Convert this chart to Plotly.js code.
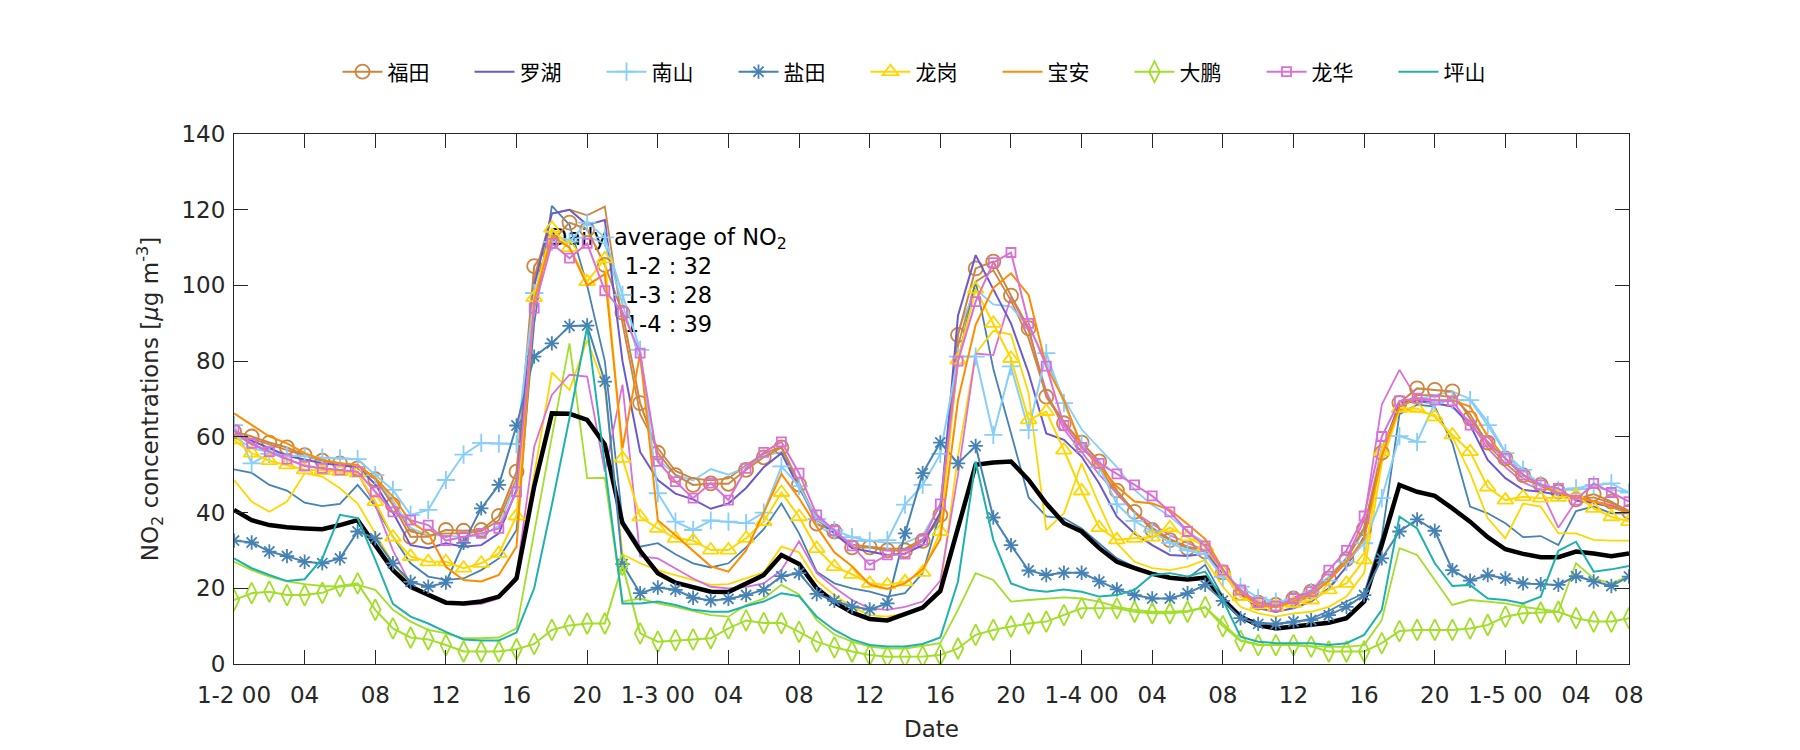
<!DOCTYPE html>
<html>
<head>
<meta charset="utf-8">
<script src="https://cdn.plot.ly/plotly-3.0.1.min.js"></script>
<style>html,body{margin:0;padding:0;background:#fff}#chart{width:1800px;height:750px}</style>
</head>
<body>
<div id="chart"></div>
<script>
// ---- tick labels (hourly index 0..79) ----
const tickLabels = ["1-2 00","04","08","12","16","20","1-3 00","04","08","12","16","20","1-4 00","04","08","12","16","20","1-5 00","04","08"];
const tickIndex = [0,4,8,12,16,20,24,28,32,36,40,44,48,52,56,60,64,68,72,76,79];

// ---- legend series (with markers) ----
const futian = [61.4,60.1,58.5,57.2,55.2,53.7,53.0,51.7,48.8,42.0,33.6,33.6,35.4,35.2,35.4,39.1,50.8,105.1,111.6,116.6,
  114.8,105.4,92.8,68.9,55.8,49.9,47.3,47.7,47.6,51.3,54.6,57.2,47.4,37.1,35.0,30.8,30.8,30.0,30.0,32.5,
  39.4,86.9,104.5,106.3,97.3,88.7,70.6,63.6,58.5,53.5,45.8,40.2,35.4,32.7,30.6,29.7,24.2,18.7,16.2,15.6,
  17.3,19.1,22.6,27.7,35.8,55.8,69.0,72.8,72.4,72.0,64.9,58.5,54.3,49.9,47.3,45.5,43.5,44.9,42.9,40.2];
const luohu = [61,59,57,55,54,53,52.5,52,47.5,40,31.4,30.6,31.9,31.0,31.4,34.5,46,100,119,120,
  116,117.3,80,56,48.6,45,43.5,41,42.4,46.5,52,55.7,46.5,38.6,34.5,30.6,29.7,28.8,29.2,31.4,
  40,92,108,99,90,76.8,60.9,59.2,54.8,47.7,38.9,34.5,31.4,28.8,28.5,29.2,24.0,18.7,14.7,13.8,
  14.7,16.5,20.0,25.7,33.6,55,68.9,69.5,68.9,68.0,63.1,53.9,49.1,46.0,45.5,44.7,43.3,42.5,41.6,39.8];
const nanshan = [63.1,53.0,55.5,55.0,55.0,54.5,54.3,54.1,49.9,46.0,39.4,40.7,48.6,55.3,58.4,58.2,58.1,98,111.5,111.6,
  116.6,112.7,97.5,83.0,45.1,37.6,35.4,37.9,37.6,37.2,40.0,52.2,47,38.3,35.4,33.5,32.5,32.7,42.1,47.3,
  55.5,81.2,81.2,60.5,78.6,61.8,82.1,68.9,58,52,42.2,37.8,35,32,30,29,23,20.4,17.5,16.5,
  17,19,22,27,31.9,43.8,60.2,58.7,68.9,69.7,69.7,63.1,55.7,51.3,47.3,46.0,46.4,47.3,47.7,45.3];
const yantian = [32.6,32.1,29.7,28.5,27.0,26.6,27.9,35.0,33.2,26.6,21.7,20.4,21.5,32,41.1,47.3,63.0,81.2,84.7,89.3,
  89.4,74.6,26.4,18.7,20.2,19.6,17.5,16.8,17.2,18.2,19.6,23.2,24.0,18.5,16.7,15.2,14.4,16.0,34.5,50.4,
  58.5,53.0,57.6,38.7,31.4,24.7,23.5,24.1,24.1,21.8,19.7,18.2,17.3,17.3,18.7,20.9,16.7,12.1,10.6,10.6,
  11.2,11.6,12.9,15.1,18.2,27.9,35.0,38.2,35.2,24.8,22.0,23.5,22.6,21.3,21.1,20.9,23.2,21.8,20.6,23.1];
const longgang = [59.2,55.7,53.7,52.6,51.3,51.1,50.8,50.4,42.9,33.5,28.4,27.0,27.0,25.3,26.6,29.2,39.1,96.8,115.1,110,
  101.0,107.0,54.3,38.9,35.8,33.2,32.6,30.1,30.1,33.2,37.6,45.3,38.9,30.5,25.7,23.7,21.3,20.9,21.7,24.2,
  35.0,80.3,99.0,90.0,80.7,64.5,66.7,56.5,45.7,36.0,32.8,33.2,33.5,36.0,33.6,31.0,24.4,17.8,15.6,15.1,
  16.0,16.9,19.6,21.3,27.5,56.1,67.5,67.5,65.3,60.5,56.1,46.7,43.3,44.2,43.8,44.0,44.5,41.1,38.9,37.6];
const baoan = [66.2,63.1,60.1,58.3,55.7,53.9,53.0,52.6,49.1,44.2,37.6,34.5,25.7,22.2,21.8,23.5,31.0,96,113,110,
  100,103,57,82,38,34,30,25.8,24.4,30,40,50.2,43.8,36.3,29.5,25.8,21,19.8,21.3,25,
  33,69.7,89.6,99.3,103.2,97.5,78.6,69.7,57.4,52.1,46.9,42.9,42.4,40.7,37,33,25,19,15.5,15,
  16.5,18.5,22,27,33,55,68,70.2,69.7,69.7,68.0,60.1,54.3,49.9,47.3,45.1,44,43,41.5,39.8];
const dapeng = [16.9,18.7,19.1,18.2,18.2,18.8,20.6,21.3,14.3,9.4,7.0,6.5,5.0,3.3,3.3,3.3,3.9,5.3,9.0,10.2,
  10.7,10.7,26.2,8.1,5.9,6.3,6.5,6.8,9.4,11.5,10.8,10.8,8.5,5.9,4.4,3.3,2.4,1.9,2.0,2.0,
  2.4,4.1,7.7,9.0,9.9,10.7,11.2,12.9,14.7,14.7,14.7,13.8,13.4,13.4,13.8,15.0,10.0,6.1,5.0,5.0,
  5.0,4.6,3.3,3.3,3.3,5.5,8.7,9.0,9.0,9.0,9.4,10.3,12.5,13.4,13.6,13.8,12.1,11.2,11.2,12.1];
const longhua = [61.8,58.3,56.1,54.1,52.3,51.7,51.3,50.8,45.5,40.2,38.0,36.7,32.6,33.6,34.5,35.8,45.5,94.0,111.1,107.2,
  111.1,98.6,93,82.1,53.5,48.2,43.8,47.8,43.3,51.7,55.9,58.7,50.4,39.4,35.2,31.2,26.2,28.8,29.0,32.7,
  42.3,80,95.7,106,108.7,90.0,78.7,63,57.2,53,50.2,47.3,44.4,40.2,35.0,31.2,24.8,19.6,16.2,15.3,
  17.3,19.1,24.8,30,39.1,60.1,69.5,70.2,69.7,69.5,63.1,58.7,54.3,49.9,47.3,46.4,43.3,47.7,45.3,42.9];
const pingshan = [27.9,25.3,23.5,21.9,22.4,27.9,39.4,38.5,27.5,15.9,12.5,10.7,8.5,6.5,6.2,6.2,8.3,20,42,65,
  89.1,52,16.0,16.0,16.5,15.6,14.3,13.8,13.8,15.3,16.5,18.7,17.9,12.5,9.0,6.5,5.0,4.6,4.6,5.3,
  7,21.8,53.5,32.8,21.3,19.6,19.1,19.7,19.1,17.8,18.2,19.6,23.5,24.0,23.1,24.4,16.9,7.2,5.9,5.5,
  5.5,5.5,5.0,5.5,7.7,14.3,38.9,35.8,26.6,20.6,20.9,17.3,16.9,16.0,17.8,29.9,32.3,24.4,25.0,25.9];

// ---- additional stations (thin lines, no markers) ----
const futian2 = [60.5,59.5,58,56.5,55,54,53,52.5,49,43,35,34,34.5,34.5,35,38,49,102,119,120,
  118.5,120.8,90,66,57,51,49,48.5,49,52.5,55.5,57.5,48,38,35,31.5,31,30.5,30.5,33,
  38,84,101,104,96,86,71,64,58,52,45,40,36,33,31,30,24.5,19,16.5,15.8,
  17.5,19.5,23,28,36,57,68,71,71,70.5,66,58,53,49,47,45,43.5,44,42.5,40.5];
const nanshan2 = [60,57,56,55,54,53.5,53,52.5,49,43,36,34,34,33.5,34,36.5,48,100,113,112,
  113,111,95,80,54,50,48.5,51.5,50,52,55,56,47,37,33.5,32.5,32.5,32,32,34,
  42,88,99,95,94.4,89,80,70,62,57,52,46,42,39,35,32,25,19,16.5,16,
  17,19,23,28,35,57,68,70,71,72,70,64,56,50,47.5,46,46,46.5,46,45.5];
const yantian2 = [51.4,50.5,47.3,45.8,42.6,41.7,42.3,47.3,41.7,33.6,26.6,23.1,22.2,22.6,24.8,27.9,35.4,90,121,116,
  100,80,38,31,31.9,29,26.6,25.5,26.6,30.8,35.6,42.4,34.5,24.4,21.3,20.0,19.1,17.8,18.7,24,
  40,80,101,78,61,44,39,38.5,35.8,31.9,27.9,25.7,24.0,22.6,22.6,26.2,17.8,12.5,11,10.6,
  11,12,14,16.5,18.7,33.5,66,68.5,68.0,58.3,41.6,39.8,37.2,33.5,33.8,31.4,40.4,41.6,39.8,39.8];
const longgang2 = [48.6,42.9,40.2,42.9,50.4,49.5,46.4,42.4,34.5,26.6,20.9,18.5,16.5,15.9,15.9,17.8,23.1,50,77,72.4,
  85.6,73,29,26.6,24.8,23.5,22.2,20.9,21.1,22.6,24.2,31.0,29.5,22,18.2,15.1,12.9,12.5,13.4,15.1,
  20,55,82,88,87,71.5,35.4,39.8,53.0,42,31.9,27.0,25.3,24.8,25.7,27.5,20.4,15.1,13.4,12.5,
  13.4,13.8,15.1,17.8,24.0,53,67.2,66.7,65.8,60,50.4,38.5,33.2,42.4,41.6,34.5,34.5,32.8,32.6,32.6];
const dapeng2 = [27.0,24.8,23.1,21.8,21.1,20.6,20.4,20.9,19.6,14.3,11.2,9.0,8.1,6.8,6.8,7.0,9.4,35,60,84.7,
  49.1,49.2,16.5,17.3,16.0,15.1,14,12.9,12.5,15.6,17.3,20.9,18.4,11.6,7.8,5.9,4.6,4.1,4.1,4.8,
  5.5,14.3,24.0,22.2,16.5,16.9,17.3,17.6,17.3,16.5,15.1,14.3,13.8,13.8,14,15,10.7,6.3,5.2,5.0,
  5.0,4.8,4.5,4.5,5.0,11.6,30.6,28.8,22.2,15.6,16.9,16.5,16.0,15.1,14.4,13.8,26.6,22.6,21.3,23.2];
const longhua2 = [61,58,56,54,52.5,51.5,51,50.5,42,30,21,18.5,16.5,15.6,15.9,17.3,23.5,57.4,71.1,76.4,
  75.9,50.8,73.8,28.4,27.9,25.3,22.6,20.4,20.0,20.4,21.3,24.8,32.4,24.0,20.2,16.9,14.7,14.3,15.1,16.5,
  22,50,82,81.6,97,88,72,62,56,50,45,40,37,34,32,30,24,18,15.5,15,
  16,18,22,28,38,68.5,77.7,70,69,68,64,57,52,48,46,36,43,43,42,40];
const average = [40.7,38.0,36.7,36.1,35.8,35.6,36.7,38.0,31.4,24.8,20.4,18.2,16.2,16.0,16.5,17.8,22.6,46.9,66.2,66.1,
  64.5,58.0,37.2,29.9,24.0,21.5,20.2,19.1,19.0,21.1,23.5,28.8,26.4,20.0,16.3,13.6,11.9,11.5,13.2,14.9,
  19.3,35.8,52.6,53.2,53.5,48.6,42.4,37.2,35.0,30.6,27.0,25.3,23.8,22.8,22.3,22.8,17.1,12.5,10.3,9.4,
  9.9,10.3,10.9,12.1,16.5,31.5,47.3,45.5,44.4,41.1,37.6,33.5,30.3,29.1,28.2,28.2,29.7,29.2,28.5,29.2];

const dailyDays = ["1-2","1-3","1-4"];
const dailyMeans = [32,28,39];

// ---- styles ----
const C = {futian:"#CD853F", luohu:"#6A5ACD", nanshan:"#87CEFA", yantian:"#4682B4", longgang:"#FFD700",
           baoan:"#FF8C00", dapeng:"#A2DE2A", longhua:"#DA70D6", pingshan:"#20B2AA"};
const x = futian.map((_, i) => i);
const FONT = "DejaVu Sans, Noto Sans, sans-serif";

const traces = [];
// text block first so the lines are drawn over it
traces.push({
  x: [24.6], y: [100.7],
  mode: "text", type: "scatter", showlegend: false, hoverinfo: "skip",
  text: ["Daily average of NO<sub>2</sub><br>" + dailyDays.map((d, i) => d + " : " + dailyMeans[i]).join("<br>")],
  textposition: "middle center",
  textfont: {family: FONT, size: 22.5, color: "#000"}
});
function thin(y, color) {
  return {x, y, type: "scatter", mode: "lines", showlegend: false, hoverinfo: "skip",
          line: {color, width: 1.8}};
}
traces.push(thin(futian2, C.futian));
traces.push(thin(nanshan2, C.nanshan));
traces.push(thin(yantian2, C.yantian));
traces.push(thin(longgang2, C.longgang));
traces.push(thin(dapeng2, C.dapeng));
traces.push(thin(longhua2, C.longhua));
traces.push({x, y: average, type: "scatter", mode: "lines", showlegend: false, hoverinfo: "skip",
             line: {color: "#000", width: 4.5}});

function series(name, y, color, symbol, size) {
  const t = {x, y, name, type: "scatter", line: {color, width: 2}};
  if (symbol) {
    t.mode = "lines+markers";
    t.marker = {symbol, size, color, line: {color, width: 1.8}};
  } else {
    t.mode = "lines";
  }
  return t;
}
traces.push(series("福田", futian, C.futian, "circle-open", 14));
traces.push(series("罗湖", luohu, C.luohu));
traces.push(series("南山", nanshan, C.nanshan, "cross-thin-open", 13));
traces.push(series("盐田", yantian, C.yantian, "asterisk-open", 12));
traces.push(series("龙岗", longgang, C.longgang, "triangle-up-open", 14));
traces.push(series("宝安", baoan, C.baoan));
traces.push(series("大鹏", dapeng, C.dapeng, "diamond-tall-open", 15));
traces.push(series("龙华", longhua, C.longhua, "square-open", 9));
traces.push(series("坪山", pingshan, C.pingshan));

const axisFont = {family: FONT, size: 23, color: "#262626"};
const layout = {
  width: 1800, height: 750,
  margin: {l: 234, r: 171, t: 134, b: 86},
  paper_bgcolor: "#fff", plot_bgcolor: "#fff",
  font: axisFont,
  showlegend: true,
  legend: {
    orientation: "h", x: 0.5, xanchor: "center", y: 0.904, yanchor: "middle",
    yref: "container",
    font: {family: "Noto Sans CJK SC, sans-serif", size: 21, color: "#000"},
    bgcolor: "rgba(0,0,0,0)", entrywidth: 77, entrywidthmode: "pixels",
    itemwidth: 40
  },
  xaxis: {
    range: [0, 79], tickmode: "array", tickvals: tickIndex, ticktext: tickLabels,
    ticks: "inside", ticklen: 14, tickwidth: 1, tickcolor: "#262626",
    showline: true, linecolor: "#262626", linewidth: 1, mirror: "allticks",
    showgrid: false, zeroline: false, tickfont: axisFont, ticklabelstandoff: 10,
    title: {text: "Date", font: axisFont, standoff: 14}
  },
  yaxis: {
    range: [0, 140], tickmode: "array", tickvals: [0,20,40,60,80,100,120,140],
    ticks: "inside", ticklen: 14, tickwidth: 1, tickcolor: "#262626",
    showline: true, linecolor: "#262626", linewidth: 1, mirror: "allticks",
    showgrid: false, zeroline: false, tickfont: axisFont, ticklabelstandoff: 3,
    title: {text: "NO<sub>2</sub> concentrations [<i>μ</i>g m<sup>-3</sup>]", font: axisFont, standoff: 16}
  }
};
Plotly.newPlot("chart", traces, layout, {displayModeBar: false, staticPlot: true});
</script>
</body>
</html>
